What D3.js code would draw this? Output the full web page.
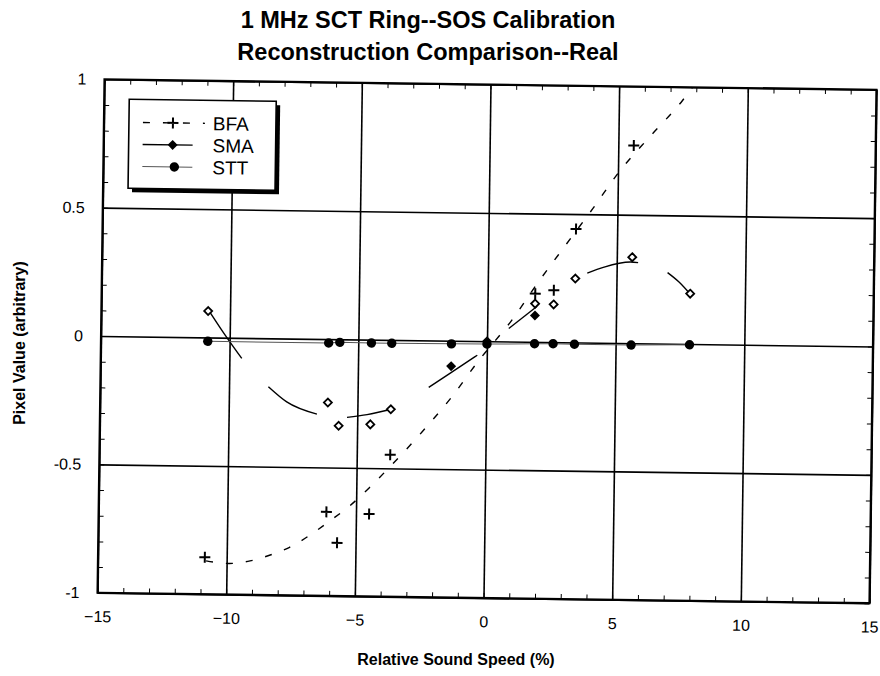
<!DOCTYPE html>
<html>
<head>
<meta charset="utf-8">
<script src="https://cdn.jsdelivr.net/npm/d3@7"></script>
<style>
  body { margin: 0; background: #fff; }
  text { font-family: Arial, 'Liberation Sans', sans-serif; fill: #000; }
</style>
</head>
<body>
<div id="chart"></div>
<script>
'use strict';

// relative sound speed (%) of each calibration sample
var speeds = [ -10.85, -6.15, -5.72, -4.49, -3.70, -1.38, 0, 1.85, 2.57, 3.40, 5.60, 7.87 ];

// pixel values per method (null = not shown)
var bfaValues = [ -0.856, -0.673, -0.793, -0.679, -0.447, null, null, 0.188, 0.202, 0.442, 0.770, null ];
var smaOpenValues = [ 0.103, -0.247, -0.337, -0.330, -0.270, null, null, 0.149, 0.147, 0.249, 0.335, 0.196 ];
var smaSolidValues = [ null, null, null, null, null, -0.099, 0, 0.103, null, null, null, null ];
var sttValues = [ -0.015, -0.015, -0.012, -0.013, -0.013, -0.012, -0.011, -0.007, -0.006, -0.007, -0.007, -0.003 ];

// fitted curves
var bfaFit = [ [ -10.8, -0.87 ], [ -9.93, -0.879 ], [ -9.09, -0.868 ], [ -8.31, -0.844 ],
  [ -7.6, -0.815 ], [ -6.77, -0.764 ], [ -6.0, -0.707 ], [ -5.23, -0.647 ], [ -4.48, -0.575 ],
  [ -3.79, -0.503 ], [ -2.47, -0.356 ], [ -1.32, -0.216 ], [ -0.245, -0.067 ], [ 0.33, 0.004 ],
  [ 0.9, 0.076 ], [ 1.92, 0.227 ], [ 3.0, 0.378 ], [ 4.04, 0.522 ], [ 5.04, 0.666 ],
  [ 6.26, 0.81 ], [ 7.47, 0.948 ], [ 7.85, 1.0 ] ];

var smaFitPieces = [
  [ [ -10.81, 0.103 ], [ -10.17, 0.009 ], [ -9.52, -0.08 ] ],
  [ [ -8.47, -0.189 ], [ -7.75, -0.247 ], [ -6.57, -0.293 ] ],
  [ [ -5.4, -0.304 ], [ -4.62, -0.292 ], [ -3.68, -0.27 ] ],
  [ [ -2.24, -0.183 ], [ -1.38, -0.124 ], [ -0.37, -0.055 ] ],
  [ [ 0.84, 0.051 ], [ 1.93, 0.139 ] ],
  [ [ 3.86, 0.271 ], [ 4.51, 0.295 ], [ 5.54, 0.316 ], [ 5.83, 0.314 ] ],
  [ [ 6.98, 0.277 ], [ 7.43, 0.241 ], [ 7.86, 0.196 ] ]
];

var xTicks = [ -15, -10, -5, 0, 5, 10, 15 ];
var yTicks = [ -1, -0.5, 0, 0.5, 1 ];
var legendNames = [ 'BFA', 'SMA', 'STT' ];

var titleLines = [ '1 MHz SCT Ring--SOS Calibration', 'Reconstruction Comparison--Real' ];

var baseWidth = 880,
    baseHeight = 676,
    margin = { top: 84.5, right: 7, bottom: 78, left: 101 };

var width = baseWidth - margin.left - margin.right,
    height = baseHeight - margin.top - margin.bottom;

var x = d3.scaleLinear().domain( [ -15, 15 ] ).range( [ 0, width ] );
var y = d3.scaleLinear().domain( [ -1, 1 ] ).range( [ height, 0 ] );

var svg = d3.select( '#chart' )
  .append( 'svg' )
    .attr( 'width', baseWidth )
    .attr( 'height', baseHeight );

svg.append( 'rect' )
    .attr( 'width', baseWidth )
    .attr( 'height', baseHeight )
    .attr( 'fill', '#fff' );

// title
svg.append( 'g' ).selectAll( 'text' )
    .data( titleLines )
  .enter().append( 'text' )
    .attr( 'x', 428 )
    .attr( 'y', function( d, i ) { return 28 + i * 32; } )
    .attr( 'text-anchor', 'middle' )
    .style( 'font-size', '23.5px' )
    .style( 'font-weight', 'bold' )
    .text( function( d ) { return d; } );

// axis titles
svg.append( 'text' )
    .attr( 'transform', 'translate(25,343) rotate(-90)' )
    .attr( 'text-anchor', 'middle' )
    .style( 'font-size', '16px' )
    .style( 'font-weight', 'bold' )
    .text( 'Pixel Value (arbitrary)' );

svg.append( 'text' )
    .attr( 'x', 456 )
    .attr( 'y', 665 )
    .attr( 'text-anchor', 'middle' )
    .style( 'font-size', '16px' )
    .style( 'font-weight', 'bold' )
    .text( 'Relative Sound Speed (%)' );

// the scanned chart sits a little rotated
var g = svg.append( 'g' )
    .attr( 'transform', 'rotate(0.78,487,341) translate(' + margin.left + ',' + margin.top + ')' );

// grid + labels
var xAxis = g.append( 'g' )
    .attr( 'class', 'x axis' )
    .attr( 'transform', 'translate(0,' + height + ')' )
    .call( d3.axisBottom( x ).tickValues( xTicks ).tickSize( -height ).tickPadding( 18 ) );

var yAxis = g.append( 'g' )
    .attr( 'class', 'y axis' )
    .call( d3.axisLeft( y ).tickValues( yTicks ).tickSize( -width ).tickPadding( 18 )
      .tickFormat( function( d ) { return String( d ); } ) );

[ xAxis, yAxis ].forEach( function( ax ) {
  ax.select( '.domain' ).remove();
  ax.selectAll( 'line' ).attr( 'stroke', '#000' ).attr( 'stroke-width', 1.6 );
  ax.selectAll( 'text' )
      .style( 'font-size', '16px' )
      .style( 'font-family', 'Arial, "Liberation Sans", sans-serif' )
      .attr( 'fill', '#000' );
} );

// inside minor ticks on all four sides
var xMinor = d3.range( -15, 16 ),
    yMinor = d3.range( -10, 11 ).map( function( v ) { return v / 10; } );

function minor( axis ) {
  return axis.tickSize( -5 ).tickFormat( '' );
}

g.append( 'g' ).attr( 'transform', 'translate(0,' + height + ')' )
    .call( minor( d3.axisBottom( x ).tickValues( xMinor ) ) );
g.append( 'g' )
    .call( minor( d3.axisTop( x ).tickValues( xMinor ) ) );
g.append( 'g' )
    .call( minor( d3.axisLeft( y ).tickValues( yMinor ) ) );
g.append( 'g' ).attr( 'transform', 'translate(' + width + ',0)' )
    .call( minor( d3.axisRight( y ).tickValues( yMinor ) ) );

g.selectAll( '.domain' ).remove();

g.append( 'rect' )
    .attr( 'width', width )
    .attr( 'height', height )
    .attr( 'fill', 'none' )
    .attr( 'stroke', '#000' )
    .attr( 'stroke-width', 2.2 );

// fitted lines
var line = d3.line()
    .x( function( d ) { return x( d[ 0 ] ); } )
    .y( function( d ) { return y( d[ 1 ] ); } )
    .curve( d3.curveMonotoneX );

g.append( 'path' )
    .datum( bfaFit )
    .attr( 'd', line )
    .attr( 'fill', 'none' )
    .attr( 'stroke', '#000' )
    .attr( 'stroke-width', 1.4 )
    .style( 'stroke-dasharray', '7, 13' );

g.selectAll( '.sma-fit' )
    .data( smaFitPieces )
  .enter().append( 'path' )
    .attr( 'class', 'sma-fit' )
    .attr( 'd', line )
    .attr( 'fill', 'none' )
    .attr( 'stroke', '#000' )
    .attr( 'stroke-width', 1.4 );

var sttPoints = speeds.map( function( s, i ) { return [ s, sttValues[ i ] ]; } );

g.append( 'path' )
    .datum( sttPoints )
    .attr( 'd', d3.line()
      .x( function( d ) { return x( d[ 0 ] ); } )
      .y( function( d ) { return y( d[ 1 ] ); } ) )
    .attr( 'fill', 'none' )
    .attr( 'stroke', '#555' )
    .attr( 'stroke-width', 1 );

// markers
function pairs( values ) {
  return speeds.map( function( s, i ) { return [ s, values[ i ] ]; } )
    .filter( function( d ) { return d[ 1 ] !== null; } );
}

var plusPath = 'M-5.5,0H5.5M0,-5.5V5.5',
    diamondSmall = 'M0,-4L4,0L0,4L-4,0Z',
    diamondBig = 'M0,-5L5,0L0,5L-5,0Z';

function place( d ) { return 'translate(' + x( d[ 0 ] ) + ',' + y( d[ 1 ] ) + ')'; }

g.selectAll( '.stt' )
    .data( pairs( sttValues ) )
  .enter().append( 'circle' )
    .attr( 'class', 'stt' )
    .attr( 'cx', function( d ) { return x( d[ 0 ] ); } )
    .attr( 'cy', function( d ) { return y( d[ 1 ] ); } )
    .attr( 'r', 4.7 )
    .attr( 'fill', '#000' );

g.selectAll( '.sma-open' )
    .data( pairs( smaOpenValues ) )
  .enter().append( 'path' )
    .attr( 'class', 'sma-open' )
    .attr( 'd', diamondSmall )
    .attr( 'transform', place )
    .attr( 'fill', '#fff' )
    .attr( 'stroke', '#000' )
    .attr( 'stroke-width', 1.8 );

g.selectAll( '.sma-solid' )
    .data( pairs( smaSolidValues ) )
  .enter().append( 'path' )
    .attr( 'class', 'sma-solid' )
    .attr( 'd', diamondBig )
    .attr( 'transform', place )
    .attr( 'fill', '#000' );

g.selectAll( '.bfa' )
    .data( pairs( bfaValues ) )
  .enter().append( 'path' )
    .attr( 'class', 'bfa' )
    .attr( 'd', plusPath )
    .attr( 'transform', place )
    .attr( 'stroke', '#000' )
    .attr( 'stroke-width', 2 );

// legend
var legend = g.append( 'g' ).attr( 'transform', 'translate(25,19.7)' );

legend.append( 'rect' )
    .attr( 'x', 4 ).attr( 'y', 4 )
    .attr( 'width', 147 ).attr( 'height', 89 )
    .attr( 'fill', '#000' );

legend.append( 'rect' )
    .attr( 'width', 147 ).attr( 'height', 89 )
    .attr( 'fill', '#fff' )
    .attr( 'stroke', '#000' )
    .attr( 'stroke-width', 1.6 );

var rows = legend.selectAll( '.row' )
    .data( legendNames )
  .enter().append( 'g' )
    .attr( 'class', 'row' )
    .attr( 'transform', function( d, i ) { return 'translate(0,' + ( 23 + i * 22 ) + ')'; } );

rows.append( 'text' )
    .attr( 'x', 84 )
    .attr( 'dy', '0.36em' )
    .style( 'font-size', '19px' )
    .text( function( d ) { return d; } );

rows.filter( function( d ) { return d === 'BFA'; } ).each( function() {
  var r = d3.select( this );
  r.append( 'line' ).attr( 'x1', 14 ).attr( 'x2', 76 )
      .attr( 'stroke', '#000' ).attr( 'stroke-width', 1.4 )
      .style( 'stroke-dasharray', '7, 13' );
  r.append( 'path' ).attr( 'd', plusPath ).attr( 'transform', 'translate(44,0)' )
      .attr( 'stroke', '#000' ).attr( 'stroke-width', 2 );
} );

rows.filter( function( d ) { return d === 'SMA'; } ).each( function() {
  var r = d3.select( this );
  r.append( 'line' ).attr( 'x1', 14 ).attr( 'x2', 64 )
      .attr( 'stroke', '#000' ).attr( 'stroke-width', 1.4 );
  r.append( 'path' ).attr( 'd', diamondBig ).attr( 'transform', 'translate(44,0)' )
      .attr( 'fill', '#000' );
} );

rows.filter( function( d ) { return d === 'STT'; } ).each( function() {
  var r = d3.select( this );
  r.append( 'line' ).attr( 'x1', 14 ).attr( 'x2', 64 )
      .attr( 'stroke', '#555' ).attr( 'stroke-width', 1 );
  r.append( 'circle' ).attr( 'cx', 46 ).attr( 'r', 4.7 ).attr( 'fill', '#000' );
} );
</script>
</body>
</html>
